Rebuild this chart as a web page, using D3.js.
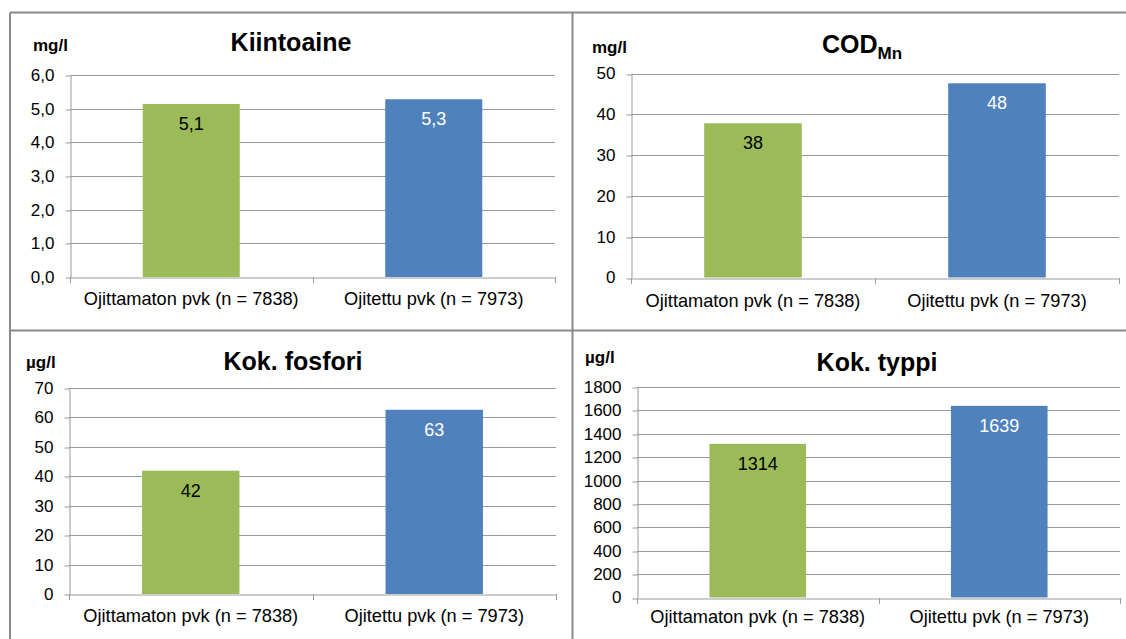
<!DOCTYPE html>
<html>
<head>
<meta charset="utf-8">
<script src="https://cdn.jsdelivr.net/npm/d3@7"></script>
<style>
  html, body { margin: 0; padding: 0; background: #fff; }
  svg { display: block; font-family: "Liberation Sans", Arial, sans-serif; }
</style>
</head>
<body>
<svg id="chart" width="1126" height="639"></svg>
<script>
// ---- data ----
const categories = ["Ojittamaton pvk (n = 7838)", "Ojitettu pvk (n = 7973)"];
const barColors = ["#9BBB59", "#4F81BD"];
const labelColors = ["#000000", "#ffffff"];

const titles = ["Kiintoaine", "COD", "Kok. fosfori", "Kok. typpi"];
const titleSubs = ["", "Mn", "", ""];
const units = ["mg/l", "mg/l", "µg/l", "µg/l"];

const kiintoaineValues = [5.14, 5.28];
const codValues = [37.8, 47.6];
const fosforiValues = [41.9, 62.6];
const typpiValues = [1314, 1639];

const kiintoaineTicks = [0, 1, 2, 3, 4, 5, 6];
const codTicks = [0, 10, 20, 30, 40, 50];
const fosforiTicks = [0, 10, 20, 30, 40, 50, 60, 70];
const typpiTicks = [0, 200, 400, 600, 800, 1000, 1200, 1400, 1600, 1800];

const commaFmt = d => d3.format(".1f")(d).replace(".", ",");
const intFmt = d3.format(".0f");

// ---- layout (positions only) ----
const panels = [
  { values: kiintoaineValues, ticks: kiintoaineTicks, fmt: commaFmt,
    axisX: 70, rightX: 555, y0: 277, yTop: 75, titleX: 291, titleY: 51, unitX: 33, unitY: 51, catPad: 15 },
  { values: codValues, ticks: codTicks, fmt: intFmt,
    axisX: 631, rightX: 1119, y0: 277.5, yTop: 73.5, titleX: 862, titleY: 53, unitX: 592, unitY: 53, catPad: 16 },
  { values: fosforiValues, ticks: fosforiTicks, fmt: intFmt,
    axisX: 69, rightX: 556, y0: 594, yTop: 388, titleX: 293, titleY: 370, unitX: 26, unitY: 368, catPad: 15 },
  { values: typpiValues, ticks: typpiTicks, fmt: intFmt,
    axisX: 637, rightX: 1120, y0: 597.5, yTop: 387, titleX: 877, titleY: 371, unitX: 585, unitY: 363, catPad: 12 }
];

const svg = d3.select("#chart");
const gridColor = "#9a9a9a";

// panel borders
const borderColor = "#8a8a8a";
const borders = [
  [10, 12.5, 1126, 12.5],
  [10, 12.5, 10, 639],
  [572.5, 12.5, 572.5, 639],
  [10, 330.5, 1126, 330.5]
];
svg.selectAll("line.border").data(borders).join("line")
  .attr("class", "border")
  .attr("x1", d => d[0]).attr("y1", d => d[1])
  .attr("x2", d => d[2]).attr("y2", d => d[3])
  .attr("stroke", borderColor).attr("stroke-width", 2);

panels.forEach((p, i) => {
  const g = svg.append("g");
  const y = d3.scaleLinear()
    .domain([0, d3.max(p.ticks)])
    .range([p.y0, p.yTop]);
  const x = d3.scaleBand()
    .domain(categories)
    .range([p.axisX, p.rightX])
    .paddingInner(0.6)
    .paddingOuter(0.3);

  // gridlines
  g.selectAll("line.grid").data(p.ticks.filter(t => t > 0)).join("line")
    .attr("class", "grid")
    .attr("x1", p.axisX).attr("x2", p.rightX)
    .attr("y1", d => Math.round(y(d)) + 0.5).attr("y2", d => Math.round(y(d)) + 0.5)
    .attr("stroke", gridColor).attr("stroke-width", 1);

  // y axis
  const yAxis = g.append("g")
    .attr("transform", `translate(${Math.round(p.axisX) + 0.5},0)`)
    .call(d3.axisLeft(y).tickValues(p.ticks).tickFormat(p.fmt)
      .tickSize(5).tickSizeOuter(0).tickPadding(11));
  yAxis.selectAll("line").attr("stroke", gridColor)
    .attr("transform", d => `translate(0,${Math.round(y(d)) + 0.5 - y(d)})`);
  yAxis.select(".domain").attr("stroke", gridColor);
  yAxis.selectAll("text").attr("font-size", 17).attr("fill", "#000")
    .attr("font-family", "Liberation Sans, Arial, sans-serif");

  // bars
  g.selectAll("rect.bar").data(p.values).join("rect")
    .attr("class", "bar")
    .attr("x", (d, j) => x(categories[j]))
    .attr("width", x.bandwidth())
    .attr("y", d => y(d))
    .attr("height", d => p.y0 - y(d))
    .attr("fill", (d, j) => barColors[j]);

  // x axis baseline
  const xAxis = g.append("g")
    .attr("transform", `translate(0,${Math.round(p.y0) + 0.5})`)
    .call(d3.axisBottom(x).tickSize(0).tickSizeOuter(0).tickPadding(p.catPad));
  xAxis.select(".domain").attr("stroke", gridColor);
  xAxis.selectAll("text").attr("font-size", 18.2).attr("fill", "#000")
    .attr("font-family", "Liberation Sans, Arial, sans-serif");

  // category boundary ticks
  const bounds = d3.range(categories.length + 1).map(k => p.axisX + k * x.step());
  g.selectAll("line.btick").data(bounds).join("line")
    .attr("class", "btick")
    .attr("x1", d => Math.round(d) + 0.5).attr("x2", d => Math.round(d) + 0.5)
    .attr("y1", Math.round(p.y0)).attr("y2", Math.round(p.y0) + 6)
    .attr("stroke", gridColor);

  // data labels
  g.selectAll("text.dlabel").data(p.values).join("text")
    .attr("class", "dlabel")
    .attr("x", (d, j) => x(categories[j]) + x.bandwidth() / 2)
    .attr("y", d => y(d) + 26)
    .attr("text-anchor", "middle")
    .attr("font-size", 18)
    .attr("fill", (d, j) => labelColors[j])
    .text(d => p.fmt(d));

  // title
  const t = g.append("text")
    .attr("x", p.titleX).attr("y", p.titleY)
    .attr("text-anchor", "middle")
    .attr("font-size", 25).attr("font-weight", "bold").attr("fill", "#000");
  t.append("tspan").text(titles[i]);
  if (titleSubs[i]) {
    t.append("tspan").attr("font-size", 17).attr("dy", 6).text(titleSubs[i]);
  }

  // unit
  g.append("text")
    .attr("x", p.unitX).attr("y", p.unitY)
    .attr("font-size", 17).attr("font-weight", "bold").attr("fill", "#000")
    .text(units[i]);
});
</script>
</body>
</html>
